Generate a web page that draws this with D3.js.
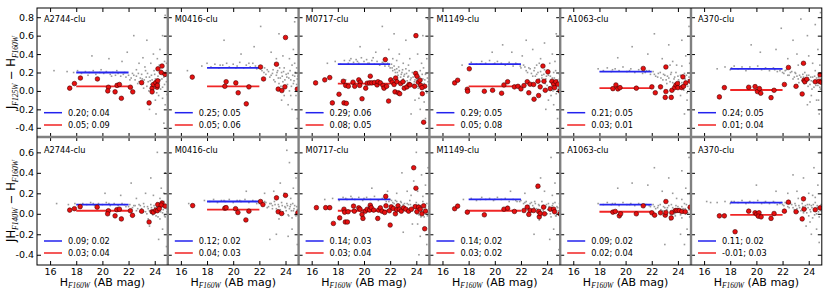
<!DOCTYPE html>
<html>
<head>
<meta charset="utf-8">
<script src="https://cdn.jsdelivr.net/npm/d3@7"></script>
<style>
body{margin:0;background:#fff}
text{font-family:"DejaVu Sans",sans-serif}
</style>
</head>
<body>
<svg id="svg1" width="830" height="295"></svg>
<script>
var clusters = ["A2744-clu","M0416-clu","M0717-clu","M1149-clu","A1063-clu","A370-clu"]
var xticks = [16,18,20,22,24]
var yticksTop = [-0.4,-0.2,0.0,0.2,0.4,0.6,0.8]
var yticksBot = [-0.4,-0.2,0.0,0.2,0.4,0.6]

// legend values: level; scatter
var blueTop = [0.20,0.25,0.29,0.29,0.21,0.24]
var blueTopErr = [0.04,0.05,0.06,0.05,0.05,0.05]
var redTop = [0.05,0.05,0.08,0.05,0.03,0.01]
var redTopErr = [0.09,0.06,0.05,0.08,0.01,0.04]
var blueBot = [0.09,0.12,0.14,0.14,0.09,0.11]
var blueBotErr = [0.02,0.02,0.03,0.02,0.02,0.02]
var redBot = [0.03,0.04,0.03,0.03,0.02,-0.01]
var redBotErr = [0.04,0.03,0.04,0.02,0.04,0.03]

// cluster members (red), J125-H160
var redPtsTop = [
 [[17.5,0.03],[17.86,0.08],[18.32,0.14],[19.62,0.13],[20.46,0.04],[20.41,0.0],[20.97,-0.01],[21.12,0.06],[21.3,0.07],[21.45,-0.08],[22.14,0.04],[22.32,-0.01],[23.0,0.09],[23.57,-0.13],[23.8,0.03],[23.8,-0.01],[23.9,0.07],[24.08,0.09],[24.23,0.11],[24.18,0.04],[24.25,0.24],[24.56,0.27],[24.5,0.2],[24.79,0.18],[24.2,0.06]],
 [[16.87,0.15],[19.36,0.05],[19.46,0.1],[20.2,0.087],[20.38,-0.02],[21.0,-0.14],[21.2,0.044],[22.09,0.26],[22.32,0.13],[23.31,0.29],[23.44,0.02],[23.72,0.004],[23.95,0.044],[24.0,0.58],[24.9,0.02]],
 [[16.3,0.087],[17.0,0.12],[17.38,0.145],[17.58,-0.13],[18.09,-0.036],[18.42,0.105],[18.47,-0.13],[18.65,-0.135],[18.6,0.06],[18.8,0.05],[19.16,0.095],[19.29,0.05],[19.6,0.12],[19.72,0.095],[19.67,0.06],[19.85,-0.085],[20.13,0.03],[20.25,0.084],[20.48,0.16],[20.43,0.087],[20.6,0.087],[20.8,0.09],[21.0,0.065],[21.07,0.1],[21.25,0.087],[21.45,0.06],[21.63,0.34],[21.53,0.03],[21.73,0.05],[21.88,-0.11],[22.04,0.12],[22.16,0.095],[22.3,0.07],[22.42,0.14],[22.52,0.1],[22.37,-0.01],[22.62,-0.02],[22.73,-0.03],[22.8,0.08],[22.98,0.1],[23.08,0.03],[23.29,0.044],[23.44,0.07],[23.52,0.065],[23.87,0.05],[23.95,0.19],[23.97,0.6],[24.05,0.16],[24.15,0.095],[24.28,0.116],[24.33,0.062],[24.46,-0.03],[24.56,-0.34],[24.64,0.05],[24.43,0.036]],
 [[16.93,0.087],[17.16,0.116],[18.05,0.24],[17.9,0.018],[17.92,-0.004],[19.2,-0.004],[19.83,0.007],[20.52,-0.025],[20.7,0.065],[20.98,0.1],[21.5,0.044],[21.77,0.05],[22.0,0.022],[22.23,0.058],[22.48,0.1],[22.7,0.073],[22.6,-0.02],[22.97,0.07],[23.0,-0.09],[23.3,0.105],[23.35,-0.05],[23.47,0.044],[23.68,0.27],[23.76,0.105],[23.86,0.007],[24.06,0.207],[24.24,0.025],[24.37,0.105],[24.5,0.073],[24.57,0.036],[24.67,0.1],[24.83,0.073],[24.98,0.0]],
 [[19.03,0.025],[19.26,0.065],[19.41,0.022],[19.57,0.036],[20.82,0.03],[21.35,0.244],[22.01,0.044],[22.27,-0.02],[22.67,0.044],[23.03,-0.07],[23.08,0.26],[23.08,-0.007],[23.49,-0.07],[23.54,0.007],[23.75,0.036],[23.85,0.065],[23.97,0.08],[24.0,0.036],[24.3,0.036],[24.38,0.153],[24.43,0.05],[24.6,0.087],[24.94,0.105]],
 [[17.17,-0.065],[17.55,0.036],[19.41,0.04],[19.9,0.047],[20.08,-0.007],[20.23,0.025],[20.33,-0.025],[21.12,-0.073],[21.35,0.007],[22.14,0.07],[22.45,0.255],[23.03,0.05],[23.5,-0.033],[23.6,0.3],[23.64,0.116],[23.7,0.1],[23.85,0.127],[24.5,0.1],[24.79,0.105],[24.87,0.175],[24.94,0.095]]
]
// cluster members (red), JH140-H160
var redPtsBot = [
 [[17.5,0.036],[17.86,0.05],[18.3,0.07],[19.6,0.065],[20.46,0.03],[20.4,0.0],[20.97,-0.02],[21.1,0.04],[21.3,0.045],[21.45,-0.05],[22.14,0.03],[22.3,-0.015],[23.0,0.025],[23.57,-0.08],[23.8,0.02],[23.9,0.015],[24.08,0.035],[24.23,0.09],[24.56,0.105],[24.5,0.085],[24.8,0.075],[24.2,0.03],[24.35,0.05]],
 [[16.9,0.08],[19.36,0.055],[19.46,0.06],[20.18,0.05],[20.36,0.013],[20.97,-0.06],[21.2,0.026],[22.09,0.12],[22.27,0.09],[23.31,0.156],[23.44,0.02],[23.7,0.003],[24.0,0.18],[24.94,0.01]],
 [[16.36,0.06],[17.07,0.06],[17.38,0.06],[17.66,-0.094],[18.14,-0.04],[18.47,0.045],[18.57,-0.08],[18.73,-0.08],[18.52,0.016],[18.78,0.02],[19.2,0.075],[19.26,0.026],[19.6,0.058],[19.7,0.045],[19.85,-0.006],[19.92,-0.045],[20.1,0.026],[20.25,0.045],[20.48,0.084],[20.43,0.036],[20.56,0.06],[20.74,0.036],[21.05,-0.045],[21.12,0.036],[21.25,0.058],[21.38,0.026],[21.58,0.013],[21.66,0.17],[21.68,0.078],[21.94,0.03],[22.0,-0.11],[22.08,0.068],[22.24,0.052],[22.4,0.0],[22.5,0.04],[22.6,0.078],[22.7,0.045],[22.85,0.026],[23.03,0.058],[23.2,0.045],[23.41,0.026],[23.62,0.045],[23.8,0.45],[23.92,0.07],[23.97,0.25],[24.05,0.02],[24.18,0.065],[24.3,0.045],[24.43,0.0],[24.64,-0.146],[24.56,0.078],[24.7,0.026]],
 [[16.93,0.05],[17.16,0.075],[17.9,0.016],[19.2,-0.01],[20.7,0.045],[20.98,0.055],[21.5,0.023],[22.23,0.032],[22.48,0.065],[22.7,0.032],[22.6,-0.006],[22.97,0.032],[23.3,0.27],[23.35,0.023],[23.4,-0.03],[23.47,0.003],[23.73,0.065],[23.8,0.0],[24.24,0.045],[24.5,0.045],[24.57,0.02],[24.98,0.0]],
 [[19.03,0.016],[19.21,0.023],[19.52,-0.02],[19.62,0.0],[20.82,0.0],[21.35,0.078],[22.01,0.01],[22.22,-0.013],[22.67,0.01],[23.03,-0.013],[23.08,0.12],[23.08,0.013],[23.49,-0.04],[23.54,0.013],[23.8,0.032],[23.92,0.032],[24.1,0.032],[24.3,0.023],[24.56,0.02],[24.94,0.065]],
 [[17.17,-0.02],[17.55,-0.02],[18.37,-0.175],[19.41,0.026],[19.9,0.01],[20.03,-0.003],[20.2,0.01],[20.15,-0.023],[20.36,-0.03],[21.12,-0.045],[21.35,0.003],[22.14,0.026],[22.45,0.114],[23.03,0.02],[23.5,-0.05],[23.6,0.146],[23.64,0.045],[24.5,0.04],[24.87,0.058]]
]

// field galaxies (grey), read approximately
var grayTop = [
 [[17.3,0.21],[17.8,0.2],[18.1,0.22],[18.4,0.19],[18.7,0.21],[19.0,0.2],[19.3,0.22],[19.5,0.18],[19.8,0.2],[20.1,0.19],[20.3,0.21],[20.6,0.18],[20.8,0.2],[21.0,0.17],[21.2,0.19],[21.4,0.16],[21.6,0.18],[21.8,0.15],[22.0,0.17],[22.2,0.14],[22.3,0.19],[22.5,0.12],[22.6,0.16],[22.8,0.1],[22.9,0.14],[23.0,0.18],[23.1,0.08],[23.2,0.12],[23.3,0.22],[23.4,0.05],[23.5,0.1],[23.6,0.15],[23.7,0.3],[23.8,0.12],[23.9,0.0],[24.0,0.18],[24.1,0.08],[24.2,0.35],[24.3,-0.05],[24.4,0.12],[24.5,0.22],[24.6,0.04],[24.7,0.15],[24.8,-0.15],[24.9,0.1],[24.4,0.45],[23.9,0.4],[22.8,0.3],[21.5,0.32],[20.5,0.35],[19.2,0.38],[24.6,0.6],[23.4,0.55],[24.8,0.82],[22.4,0.6],[24.1,-0.25],[23.6,-0.2],[24.7,-0.35],[16.3,0.22],[21.9,0.42],[23.1,0.36],[24.9,0.3],[24.2,0.25],[23.7,0.07]],
 [[16.5,0.22],[17.6,0.27],[18.0,0.3],[18.3,0.26],[18.6,0.29],[18.9,0.25],[19.2,0.28],[19.5,0.3],[19.7,0.26],[20.0,0.29],[20.3,0.27],[20.5,0.31],[20.8,0.25],[21.0,0.28],[21.3,0.26],[21.5,0.3],[21.8,0.24],[22.0,0.27],[22.2,0.22],[22.4,0.25],[22.5,0.18],[22.7,0.21],[22.8,0.15],[23.0,0.19],[23.1,0.12],[23.3,0.17],[23.4,0.22],[23.5,0.08],[23.6,0.14],[23.7,0.2],[23.8,0.1],[23.9,0.25],[24.0,0.05],[24.1,0.15],[24.2,0.19],[24.3,0.0],[24.4,0.12],[24.5,0.28],[24.6,0.08],[24.7,0.16],[24.8,-0.05],[24.9,0.13],[24.5,-0.2],[24.2,-0.15],[23.8,0.38],[24.6,0.45],[22.9,0.42],[21.6,0.48],[23.5,0.62],[24.7,0.75],[22.1,0.7],[20.6,0.4],[24.3,0.35],[23.2,0.3],[24.85,0.25],[24.9,-0.3],[19.3,0.55],[23.7,-0.1]],
 [[17.2,0.3],[17.8,0.32],[18.2,0.29],[18.5,0.33],[18.8,0.3],[19.0,0.35],[19.2,0.31],[19.4,0.34],[19.6,0.3],[19.8,0.36],[20.0,0.32],[20.2,0.34],[20.4,0.3],[20.6,0.33],[20.8,0.29],[21.0,0.32],[21.2,0.28],[21.4,0.31],[21.6,0.27],[21.8,0.3],[22.0,0.25],[22.1,0.29],[22.2,0.22],[22.3,0.27],[22.4,0.2],[22.5,0.24],[22.6,0.17],[22.7,0.22],[22.8,0.15],[22.9,0.2],[23.0,0.13],[23.1,0.18],[23.2,0.24],[23.3,0.11],[23.4,0.16],[23.5,0.09],[23.6,0.14],[23.7,0.2],[23.8,0.07],[23.9,0.12],[24.0,0.17],[24.1,0.05],[24.2,0.1],[24.3,0.22],[24.4,0.02],[24.5,0.13],[24.6,0.08],[24.7,0.18],[24.8,-0.02],[24.9,0.1],[24.95,0.2],[24.6,-0.12],[24.3,-0.2],[23.9,-0.1],[24.8,0.35],[24.1,0.4],[23.5,0.35],[22.7,0.4],[21.9,0.45],[20.9,0.42],[19.7,0.48],[23.2,0.55],[24.5,0.6],[22.3,0.62],[24.9,0.78],[21.4,0.7],[24.7,-0.3],[23.6,-0.25],[20.1,0.05],[18.6,0.12],[23.0,0.3],[22.5,0.33],[24.4,0.3]],
 [[17.5,0.28],[18.2,0.31],[18.6,0.29],[19.0,0.32],[19.3,0.3],[19.6,0.33],[19.9,0.29],[20.2,0.32],[20.5,0.3],[20.8,0.28],[21.1,0.31],[21.4,0.27],[21.7,0.29],[22.0,0.25],[22.2,0.28],[22.4,0.22],[22.6,0.25],[22.8,0.19],[23.0,0.22],[23.1,0.16],[23.3,0.2],[23.4,0.13],[23.6,0.17],[23.7,0.1],[23.8,0.23],[23.9,0.13],[24.0,0.06],[24.1,0.17],[24.2,0.1],[24.3,0.02],[24.4,0.14],[24.5,0.2],[24.6,0.07],[24.7,-0.03],[24.8,0.12],[24.9,0.04],[24.95,0.18],[24.5,-0.15],[24.1,-0.1],[23.5,0.35],[24.4,0.4],[22.9,0.45],[21.3,0.42],[23.8,0.52],[22.4,0.55],[24.7,0.62],[20.6,0.5],[24.2,0.3],[23.2,0.28],[24.8,-0.3],[23.9,-0.2],[19.8,0.42],[22.1,0.38]],
 [[17.9,0.24],[18.3,0.22],[18.6,0.25],[18.9,0.21],[19.2,0.24],[19.5,0.22],[19.8,0.26],[20.1,0.21],[20.4,0.24],[20.7,0.2],[21.0,0.23],[21.3,0.19],[21.6,0.22],[21.9,0.18],[22.1,0.21],[22.3,0.16],[22.5,0.19],[22.7,0.14],[22.9,0.18],[23.1,0.12],[23.2,0.16],[23.4,0.1],[23.5,0.2],[23.7,0.13],[23.8,0.07],[24.0,0.16],[24.1,0.1],[24.3,0.04],[24.4,0.14],[24.5,0.19],[24.6,0.08],[24.8,0.12],[24.9,0.02],[24.7,-0.1],[24.2,-0.05],[23.6,0.32],[24.6,0.38],[22.8,0.35],[21.7,0.4],[23.3,0.5],[24.3,0.55],[20.5,0.48],[24.85,0.7],[22.2,0.62],[23.9,0.28],[24.9,0.3],[24.5,-0.25],[19.4,0.36]],
 [[17.0,0.24],[17.6,0.26],[18.0,0.23],[18.3,0.27],[18.6,0.24],[18.9,0.26],[19.2,0.22],[19.5,0.26],[19.8,0.24],[20.1,0.27],[20.4,0.23],[20.7,0.25],[21.0,0.22],[21.3,0.25],[21.6,0.21],[21.9,0.24],[22.1,0.19],[22.3,0.23],[22.5,0.17],[22.7,0.21],[22.9,0.15],[23.0,0.19],[23.2,0.13],[23.3,0.17],[23.5,0.11],[23.6,0.15],[23.7,0.2],[23.8,0.09],[23.9,0.13],[24.0,0.17],[24.1,0.07],[24.2,0.11],[24.3,0.15],[24.4,0.04],[24.5,0.1],[24.6,0.14],[24.7,0.06],[24.8,0.11],[24.9,0.02],[24.95,0.13],[24.6,-0.1],[24.2,-0.05],[23.9,-0.15],[24.8,-0.25],[22.4,0.35],[23.1,0.4],[24.0,0.38],[24.7,0.45],[21.5,0.45],[20.3,0.42],[22.8,0.55],[23.9,0.6],[24.5,0.72],[21.9,0.68],[23.4,0.78],[24.9,0.85],[19.6,0.5],[24.3,0.3],[23.5,0.3],[24.85,0.28]]
]
// extra field galaxies, denser faint end
var grayTopFaint = [
 [[21.7,0.2],[22.1,0.12],[22.4,0.17],[22.7,0.08],[22.75,0.19],[23.05,0.13],[23.15,0.03],[23.35,0.15],[23.45,0.19],[23.55,0.0],[23.65,0.11],[23.75,0.17],[23.85,0.06],[23.95,0.22],[24.05,0.13],[24.15,-0.02],[24.25,0.16],[24.35,0.08],[24.45,0.02],[24.55,0.13],[24.65,0.2],[24.75,0.07],[24.85,0.16],[24.95,-0.04],[24.35,0.28],[24.75,0.32],[23.25,0.26],[24.05,-0.1],[24.6,-0.08],[22.6,0.23],[21.1,0.22],[20.7,0.16],[19.9,0.23],[18.9,0.17],[24.9,0.22]],
 [[21.7,0.27],[22.1,0.24],[22.35,0.2],[22.6,0.23],[22.9,0.17],[23.05,0.23],[23.2,0.1],[23.35,0.2],[23.45,0.14],[23.55,0.25],[23.65,0.05],[23.75,0.16],[23.85,0.21],[23.95,0.12],[24.05,0.18],[24.15,0.07],[24.25,0.14],[24.35,0.22],[24.45,0.05],[24.55,0.17],[24.65,0.11],[24.75,0.2],[24.85,0.07],[24.95,0.16],[24.4,-0.05],[24.7,0.3],[23.9,-0.05],[23.3,0.35],[24.95,0.0],[20.2,0.25],[19.0,0.28],[21.2,0.3]],
 [[21.5,0.3],[21.9,0.27],[22.15,0.25],[22.35,0.23],[22.55,0.2],[22.65,0.26],[22.85,0.18],[22.95,0.23],[23.05,0.16],[23.15,0.1],[23.25,0.19],[23.35,0.15],[23.45,0.22],[23.55,0.12],[23.65,0.07],[23.75,0.15],[23.85,0.1],[23.95,0.2],[24.05,0.13],[24.15,0.03],[24.25,0.15],[24.35,0.08],[24.45,0.18],[24.55,0.05],[24.65,0.12],[24.75,0.0],[24.85,0.14],[24.95,0.07],[24.55,0.25],[24.2,-0.08],[23.4,0.28],[22.2,0.35],[20.3,0.3],[19.5,0.32],[18.9,0.33],[20.7,0.36]],
 [[21.6,0.3],[21.95,0.27],[22.3,0.26],[22.5,0.2],[22.7,0.24],[22.9,0.16],[23.05,0.25],[23.2,0.18],[23.35,0.1],[23.5,0.21],[23.6,0.14],[23.75,0.18],[23.85,0.08],[23.95,0.16],[24.05,0.22],[24.15,0.04],[24.25,0.16],[24.35,0.09],[24.45,0.0],[24.55,0.14],[24.65,0.22],[24.75,0.1],[24.85,0.02],[24.95,0.13],[24.6,0.32],[24.3,-0.05],[23.4,0.3],[20.0,0.3],[18.9,0.29],[21.0,0.29]],
 [[21.5,0.2],[21.8,0.22],[22.2,0.18],[22.45,0.15],[22.65,0.2],[22.85,0.12],[23.0,0.17],[23.15,0.08],[23.3,0.14],[23.45,0.18],[23.6,0.09],[23.75,0.15],[23.85,0.2],[23.95,0.05],[24.05,0.12],[24.2,0.17],[24.3,0.09],[24.45,0.01],[24.55,0.13],[24.65,0.17],[24.75,0.05],[24.85,0.15],[24.95,0.09],[24.3,0.27],[23.4,0.28],[24.7,-0.02],[20.3,0.22],[19.0,0.23]],
 [[21.4,0.23],[21.8,0.22],[22.0,0.2],[22.2,0.22],[22.4,0.17],[22.6,0.2],[22.8,0.13],[22.95,0.2],[23.1,0.16],[23.25,0.09],[23.4,0.15],[23.55,0.18],[23.65,0.08],[23.75,0.13],[23.85,0.17],[23.95,0.05],[24.05,0.12],[24.15,0.15],[24.25,0.02],[24.35,0.1],[24.45,0.16],[24.55,0.06],[24.65,0.09],[24.75,0.15],[24.85,0.04],[24.95,0.1],[24.5,0.22],[24.1,-0.12],[23.2,0.28],[24.75,-0.1],[20.6,0.24],[19.4,0.24],[18.1,0.25]]
]
var grayBot = [
 [[17.4,0.09],[17.9,0.1],[18.2,0.08],[18.5,0.1],[18.8,0.09],[19.1,0.11],[19.4,0.08],[19.7,0.1],[20.0,0.09],[20.3,0.11],[20.6,0.08],[20.9,0.1],[21.2,0.08],[21.5,0.1],[21.8,0.07],[22.1,0.09],[22.3,0.06],[22.5,0.08],[22.7,0.05],[22.9,0.08],[23.1,0.03],[23.2,0.07],[23.4,0.0],[23.5,0.05],[23.7,0.09],[23.8,0.02],[24.0,0.06],[24.1,-0.02],[24.2,0.1],[24.3,0.04],[24.4,-0.05],[24.5,0.07],[24.6,0.01],[24.7,0.12],[24.8,-0.03],[24.9,0.05],[24.6,-0.15],[24.3,-0.25],[23.9,0.18],[24.5,0.25],[23.3,0.2],[22.6,0.15],[21.4,0.18],[24.8,0.4],[23.7,0.35],[24.2,0.6],[22.2,0.3],[20.2,0.2],[24.9,-0.32],[23.6,-0.12],[16.5,0.1],[24.7,0.2]],
 [[16.6,0.1],[17.8,0.13],[18.2,0.12],[18.5,0.14],[18.8,0.11],[19.1,0.13],[19.4,0.12],[19.7,0.14],[20.0,0.11],[20.3,0.13],[20.6,0.12],[20.9,0.14],[21.2,0.11],[21.5,0.13],[21.8,0.1],[22.1,0.12],[22.3,0.09],[22.5,0.11],[22.7,0.07],[22.9,0.1],[23.0,0.05],[23.2,0.09],[23.4,0.03],[23.5,0.07],[23.7,0.11],[23.8,0.02],[24.0,0.06],[24.1,0.1],[24.2,-0.01],[24.3,0.05],[24.4,0.09],[24.5,-0.04],[24.6,0.03],[24.7,0.08],[24.8,-0.02],[24.9,0.04],[24.5,-0.15],[24.2,-0.22],[23.9,0.2],[24.6,0.25],[23.1,0.22],[22.4,0.2],[21.0,0.22],[24.8,0.35],[23.6,0.3],[24.3,0.5],[22.8,-0.25],[23.3,-0.2],[24.9,-0.3],[24.1,0.62]],
 [[17.0,0.14],[17.6,0.15],[18.1,0.13],[18.4,0.16],[18.7,0.14],[19.0,0.17],[19.3,0.14],[19.6,0.16],[19.9,0.13],[20.2,0.16],[20.5,0.14],[20.8,0.17],[21.1,0.13],[21.4,0.15],[21.7,0.12],[22.0,0.14],[22.2,0.11],[22.4,0.13],[22.6,0.09],[22.8,0.12],[22.9,0.07],[23.1,0.1],[23.2,0.05],[23.4,0.09],[23.5,0.13],[23.6,0.04],[23.8,0.08],[23.9,0.02],[24.0,0.11],[24.1,0.06],[24.2,-0.01],[24.3,0.08],[24.4,0.03],[24.5,0.12],[24.6,-0.03],[24.7,0.06],[24.8,0.1],[24.9,0.01],[24.95,0.07],[24.6,-0.15],[24.3,-0.22],[23.7,-0.1],[24.8,-0.3],[24.1,0.22],[24.7,0.28],[23.3,0.22],[22.5,0.2],[21.8,0.22],[24.4,0.38],[23.8,0.32],[24.9,0.45],[22.9,0.4],[20.6,0.25],[24.2,-0.4],[23.0,-0.18],[24.0,0.6]],
 [[17.6,0.14],[18.2,0.15],[18.6,0.13],[19.0,0.16],[19.3,0.14],[19.6,0.15],[19.9,0.13],[20.2,0.16],[20.5,0.14],[20.8,0.15],[21.1,0.12],[21.4,0.14],[21.7,0.12],[22.0,0.13],[22.2,0.1],[22.4,0.12],[22.6,0.08],[22.8,0.11],[23.0,0.06],[23.1,0.1],[23.3,0.04],[23.4,0.08],[23.6,0.12],[23.7,0.03],[23.9,0.07],[24.0,0.0],[24.1,0.1],[24.2,0.05],[24.3,-0.03],[24.4,0.08],[24.5,0.02],[24.6,0.11],[24.7,-0.02],[24.8,0.06],[24.9,0.0],[24.95,0.1],[24.5,-0.15],[24.2,-0.25],[23.8,0.22],[24.6,0.3],[23.2,0.25],[22.3,0.2],[21.2,0.22],[24.8,0.4],[23.5,0.35],[24.3,0.55],[23.0,-0.2],[24.9,-0.35]],
 [[17.9,0.1],[18.3,0.09],[18.6,0.11],[18.9,0.09],[19.2,0.1],[19.5,0.08],[19.8,0.11],[20.1,0.09],[20.4,0.1],[20.7,0.08],[21.0,0.1],[21.3,0.08],[21.6,0.09],[21.9,0.07],[22.1,0.09],[22.3,0.05],[22.5,0.08],[22.7,0.04],[22.9,0.07],[23.1,0.02],[23.2,0.06],[23.4,0.0],[23.5,0.09],[23.7,0.04],[23.8,-0.02],[24.0,0.07],[24.1,0.02],[24.3,-0.04],[24.4,0.05],[24.5,0.1],[24.6,0.0],[24.8,0.06],[24.9,-0.03],[24.7,-0.15],[24.2,-0.2],[23.6,0.2],[24.6,0.25],[22.8,0.22],[21.7,0.28],[23.3,0.35],[24.3,0.42],[20.5,0.3],[24.85,0.55],[22.2,0.45],[23.9,0.15],[24.9,0.2],[24.5,-0.3],[19.4,0.25],[23.0,-0.3]],
 [[17.0,0.11],[17.6,0.12],[18.0,0.1],[18.3,0.12],[18.6,0.11],[18.9,0.13],[19.2,0.1],[19.5,0.12],[19.8,0.11],[20.1,0.13],[20.4,0.1],[20.7,0.12],[21.0,0.1],[21.3,0.12],[21.6,0.09],[21.9,0.11],[22.1,0.08],[22.3,0.1],[22.5,0.06],[22.7,0.09],[22.9,0.04],[23.0,0.08],[23.2,0.02],[23.3,0.06],[23.5,0.1],[23.6,0.01],[23.8,0.05],[23.9,0.09],[24.0,-0.02],[24.1,0.04],[24.2,0.08],[24.3,-0.04],[24.4,0.03],[24.5,0.11],[24.6,0.0],[24.7,0.06],[24.8,-0.03],[24.9,0.04],[24.95,0.09],[24.6,-0.15],[24.2,-0.2],[23.8,-0.12],[24.8,-0.28],[22.4,0.2],[23.1,0.22],[24.0,0.2],[24.7,0.28],[21.5,0.22],[23.6,0.35],[24.4,0.45],[22.8,0.38],[24.9,0.6],[20.0,0.28],[24.3,0.18],[16.2,0.12],[16.5,0.11]]
]
var grayBotFaint = [
 [[21.7,0.09],[22.0,0.07],[22.4,0.08],[22.6,0.03],[22.8,0.09],[23.0,0.05],[23.15,0.1],[23.3,0.02],[23.45,0.07],[23.6,0.03],[23.75,0.06],[23.85,-0.01],[23.95,0.08],[24.05,0.03],[24.15,0.06],[24.25,-0.03],[24.35,0.09],[24.45,0.02],[24.55,0.12],[24.65,0.04],[24.75,-0.02],[24.85,0.08],[24.95,0.02],[24.4,0.15],[23.5,-0.05],[20.5,0.1],[19.3,0.1]],
 [[21.7,0.12],[22.0,0.1],[22.4,0.12],[22.6,0.06],[22.8,0.1],[23.0,0.08],[23.15,0.12],[23.3,0.05],[23.45,0.09],[23.6,0.04],[23.75,0.08],[23.85,0.0],[23.95,0.07],[24.05,0.03],[24.15,0.08],[24.25,-0.02],[24.35,0.07],[24.45,0.03],[24.55,0.1],[24.65,0.05],[24.75,-0.01],[24.85,0.07],[24.95,0.02],[24.4,0.15],[23.5,-0.05],[20.5,0.13],[19.3,0.13]],
 [[21.6,0.14],[21.9,0.12],[22.1,0.13],[22.3,0.1],[22.5,0.12],[22.7,0.08],[22.85,0.11],[23.0,0.09],[23.15,0.06],[23.3,0.1],[23.45,0.05],[23.55,0.09],[23.7,0.03],[23.8,0.07],[23.95,0.05],[24.05,0.0],[24.15,0.09],[24.25,0.04],[24.35,-0.03],[24.45,0.07],[24.55,0.02],[24.65,0.09],[24.75,0.04],[24.85,-0.02],[24.95,0.05],[24.5,0.17],[23.6,0.18],[24.1,-0.1],[20.0,0.15],[19.1,0.15],[18.6,0.15]],
 [[21.6,0.13],[21.9,0.12],[22.3,0.11],[22.5,0.07],[22.7,0.1],[22.9,0.08],[23.05,0.12],[23.2,0.05],[23.35,0.09],[23.5,0.04],[23.65,0.08],[23.8,0.01],[23.95,0.09],[24.05,0.04],[24.15,0.07],[24.25,0.0],[24.35,0.06],[24.45,0.1],[24.55,0.04],[24.65,-0.02],[24.75,0.07],[24.85,0.03],[24.95,0.06],[24.4,0.18],[23.4,-0.06],[20.0,0.14],[18.9,0.14]],
 [[21.5,0.09],[21.8,0.08],[22.2,0.07],[22.45,0.06],[22.65,0.09],[22.85,0.03],[23.0,0.06],[23.15,0.04],[23.3,0.08],[23.45,0.02],[23.6,0.06],[23.75,0.0],[23.85,0.08],[23.95,0.03],[24.05,0.05],[24.2,-0.01],[24.3,0.07],[24.45,0.02],[24.55,0.05],[24.65,0.09],[24.75,0.01],[24.85,0.04],[24.95,0.08],[24.3,0.14],[23.4,-0.06],[20.3,0.09],[19.0,0.1]],
 [[21.4,0.11],[21.8,0.1],[22.0,0.09],[22.2,0.11],[22.4,0.07],[22.6,0.1],[22.8,0.06],[22.95,0.1],[23.1,0.05],[23.25,0.08],[23.4,0.03],[23.55,0.07],[23.65,0.04],[23.75,0.08],[23.85,0.01],[23.95,0.06],[24.05,0.09],[24.15,0.02],[24.25,0.06],[24.35,0.09],[24.45,-0.01],[24.55,0.05],[24.65,0.08],[24.75,0.02],[24.85,0.07],[24.95,0.03],[24.5,0.16],[24.1,-0.08],[23.2,0.15],[20.6,0.11],[19.4,0.11],[18.1,0.12]]
]

var L = 37, T = 8, PW = 130.8
var PH = [129, 128]
var svg = d3.select("#svg1")

var x = d3.scaleLinear().domain([15,25]).range([0,PW])
var yS = [
    d3.scaleLinear().domain([-0.5,0.9]).range([PH[0],0]),
    d3.scaleLinear().domain([-0.5,0.75]).range([PH[1],0])
]
var rows = [
    {gray:grayTop, grayF:grayTopFaint, red:redPtsTop, b:blueTop, be:blueTopErr, r:redTop, re:redTopErr, yt:yticksTop, top:T},
    {gray:grayBot, grayF:grayBotFaint, red:redPtsBot, b:blueBot, be:blueBotErr, r:redBot, re:redBotErr, yt:yticksBot, top:T+PH[0]}
]
var fmt2 = function(v){ return v.toFixed(2) }

rows.forEach(function(row, ri){
    var y = yS[ri], h = PH[ri]
    clusters.forEach(function(name, ci){
        var g = svg.append("g").attr("transform","translate("+(L+ci*PW)+","+row.top+")")
        var cid = "clip"+ri+"_"+ci
        g.append("clipPath").attr("id",cid).append("rect").attr("width",PW).attr("height",h)
        var pg = g.append("g").attr("clip-path","url(#"+cid+")")

        pg.selectAll("rect.f").data(row.gray[ci].concat(row.grayF[ci])).enter().append("rect")
            .attr("class","f")
            .attr("x",function(d){ return x(d[0])-0.8 })
            .attr("y",function(d){ return y(d[1])-0.8 })
            .attr("width",1.6).attr("height",1.6)
            .attr("fill","#9a9a9a")

        pg.append("line").attr("x1",x(18)).attr("x2",x(22))
            .attr("y1",y(row.b[ci])).attr("y2",y(row.b[ci]))
            .attr("stroke","#2626ee").attr("stroke-width",1.8)
        pg.append("line").attr("x1",x(18)).attr("x2",x(22))
            .attr("y1",y(row.r[ci])).attr("y2",y(row.r[ci]))
            .attr("stroke","#f02626").attr("stroke-width",1.8)

        pg.selectAll("circle").data(row.red[ci]).enter().append("circle")
            .attr("cx",function(d){ return x(d[0]) })
            .attr("cy",function(d){ return y(d[1]) })
            .attr("r",2.3)
            .attr("fill","#e81010").attr("stroke","#4a0000").attr("stroke-width",0.6)

        g.append("text").attr("x",7).attr("y",ri==0?14.3:15.5)
            .attr("font-size",8.2).text(name)

        // legend
        var ly = [104.7, 117]
        if(ri==1) ly = [104, 116]
        g.append("line").attr("x1",7).attr("x2",25).attr("y1",ly[0]).attr("y2",ly[0])
            .attr("stroke","#2222ee").attr("stroke-width",1.5)
        g.append("line").attr("x1",7).attr("x2",25).attr("y1",ly[1]).attr("y2",ly[1])
            .attr("stroke","#f02222").attr("stroke-width",1.5)
        g.append("text").attr("x",31).attr("y",ly[0]+3).attr("font-size",8.2)
            .text(fmt2(row.b[ci])+"; "+fmt2(row.be[ci]))
        g.append("text").attr("x",31).attr("y",ly[1]+3).attr("font-size",8.2)
            .text(fmt2(row.r[ci])+"; "+fmt2(row.re[ci]))

        // ticks, all pointing inwards
        var showX = ri==1, showY = ci==0
        g.append("g").attr("transform","translate(0,"+h+")")
            .call(d3.axisBottom(x).tickValues(xticks).tickSize(-4).tickPadding(3)
                .tickFormat(showX ? function(d){ return d } : ""))
        g.append("g").call(d3.axisTop(x).tickValues(xticks).tickSize(-4).tickFormat(""))
        g.append("g").call(d3.axisLeft(y).tickValues(row.yt).tickSize(-4).tickPadding(3)
            .tickFormat(showY ? function(d){ return d.toFixed(1) } : ""))
        g.append("g").attr("transform","translate("+PW+",0)")
            .call(d3.axisRight(y).tickValues(row.yt).tickSize(-4).tickFormat(""))
        g.selectAll(".domain").remove()
        g.selectAll(".tick text").attr("font-size",9.5).attr("font-family","DejaVu Sans").attr("fill","#000")
        g.selectAll(".tick line").attr("stroke","#000")

        if(showX){
            var xl = g.append("text").attr("x",PW/2).attr("y",h+20.5)
                .attr("text-anchor","middle").attr("font-size",11)
            xl.append("tspan").text("H")
            xl.append("tspan").attr("dy",2.5).attr("font-size",7.5).attr("font-style","italic")
                .attr("font-family","Liberation Serif").text("F160W")
            xl.append("tspan").attr("dy",-2.5).text(" (AB mag)")
        }
    })
})

// panel borders: shared edges grey, outer frame black
var totW = 6*PW, totH = PH[0]+PH[1]
for(var c=1;c<6;c++){
    svg.append("line").attr("x1",L+c*PW).attr("x2",L+c*PW).attr("y1",T).attr("y2",T+totH)
        .attr("stroke","#808080").attr("stroke-width",2.4)
}
svg.append("line").attr("x1",L).attr("x2",L+totW).attr("y1",T+PH[0]).attr("y2",T+PH[0])
    .attr("stroke","#808080").attr("stroke-width",2.4)
svg.append("rect").attr("x",L).attr("y",T).attr("width",totW).attr("height",totH)
    .attr("fill","none").attr("stroke","#000").attr("stroke-width",1)

// y labels
function ylab(cy, pre, sub1){
    var t = svg.append("text").attr("transform","translate(15,"+cy+") rotate(-90)")
        .attr("text-anchor","middle").attr("font-size",11.5)
    t.append("tspan").text(pre)
    t.append("tspan").attr("dy",2.5).attr("font-size",7.5).attr("font-style","italic")
        .attr("font-family","Liberation Serif").text(sub1)
    t.append("tspan").attr("dy",-2.5).text(" \u2212 H")
    t.append("tspan").attr("dy",2.5).attr("font-size",7.5).attr("font-style","italic")
        .attr("font-family","Liberation Serif").text("F160W")
}
ylab(T+PH[0]/2, "J", "F125W")
ylab(T+PH[0]+PH[1]/2, "JH", "F140W")
</script>
</body>
</html>
